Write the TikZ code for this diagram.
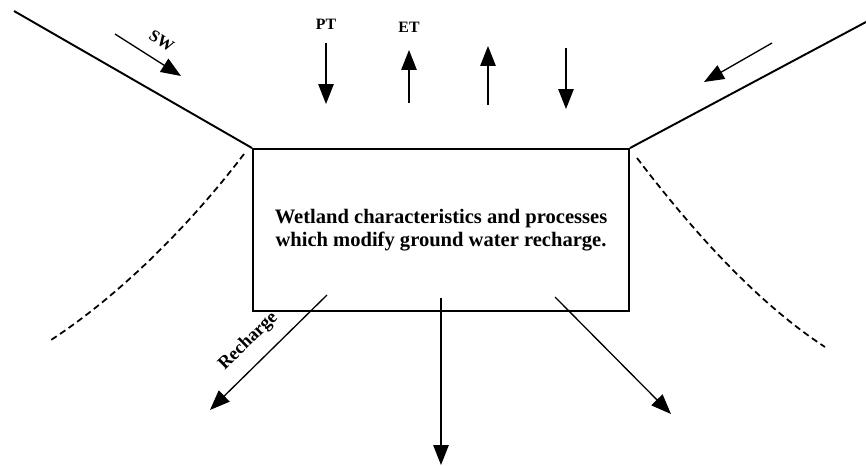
\documentclass[tikz,border=0pt]{standalone}
\usepackage{fontspec}
\setmainfont{Liberation Serif}
\usetikzlibrary{arrows.meta}

\begin{document}
\begin{tikzpicture}[x=0.02cm,y=-0.02cm,
    flux/.style={line width=0.75pt,-{Triangle[length=4mm,width=3.1mm]}},
    ground/.style={line width=1.1pt},
    front/.style={line width=1pt,dash pattern=on 1.3mm off 0.8mm},
    lbl/.style={font=\bfseries\fontsize{9}{10}\selectfont}]
    \useasboundingbox (0,0) rectangle (866,466);
    % Wetland box
    \node[draw,line width=1.1pt,minimum width=7.52cm,minimum height=3.24cm,inner sep=0pt,
        align=center,font=\bfseries\fontsize{11.7}{13}\selectfont] (wetland) at (441,230)
        {Wetland characteristics and processes\\which modify ground water recharge.};
    % Hill slopes
    \coordinate (slopeL) at (14,11);
    \coordinate (slopeR) at (866,22);
    \draw[ground] (slopeL) -- (wetland.north west);
    \draw[ground] (slopeR) -- (wetland.north east);
    % Dashed lines under the slopes
    \draw[front] (244,154) .. controls (190,225) and (120,295) .. (51,340);
    \draw[front] (637,158) .. controls (691,229) and (756,302) .. (825,347);
    % Surface water in
    \coordinate (sw0) at (115,34);
    \coordinate (sw1) at (181,76);
    \draw[flux] (sw0) -- node[lbl,sloped,above=4pt,pos=0.55,font=\bfseries\fontsize{9.5}{10}\selectfont] (swlabel) {SW} (sw1);
    \coordinate (in0) at (772,43);
    \coordinate (in1) at (704,82);
    \draw[flux] (in0) -- (in1);
    % PT and ET
    \foreach \n/\x/\a/\b in {pt/326/43/104, et/409/103/50, up/488/105/46, down/566/48/109}{
        \coordinate (\n0) at (\x,\a);
        \coordinate (\n1) at (\x,\b);
        \draw[flux] (\n0) -- (\n1);
    }
    \node[lbl] (ptlabel) at (326,24) {PT};
    \node[lbl] (etlabel) at (409,27) {ET};
    % Recharge
    \coordinate (rl0) at (327,295);
    \coordinate (rl1) at (210,410);
    \draw[flux] (rl0) -- node[lbl,sloped,above=4pt,pos=0.54,font=\bfseries\fontsize{10.5}{11}\selectfont] (rlabel) {Recharge} (rl1);
    \coordinate (rm0) at (441,298);
    \coordinate (rm1) at (441,465);
    \draw[flux] (rm0) -- (rm1);
    \coordinate (rr0) at (555,297);
    \coordinate (rr1) at (671,414);
    \draw[flux] (rr0) -- (rr1);
\end{tikzpicture}
\end{document}
